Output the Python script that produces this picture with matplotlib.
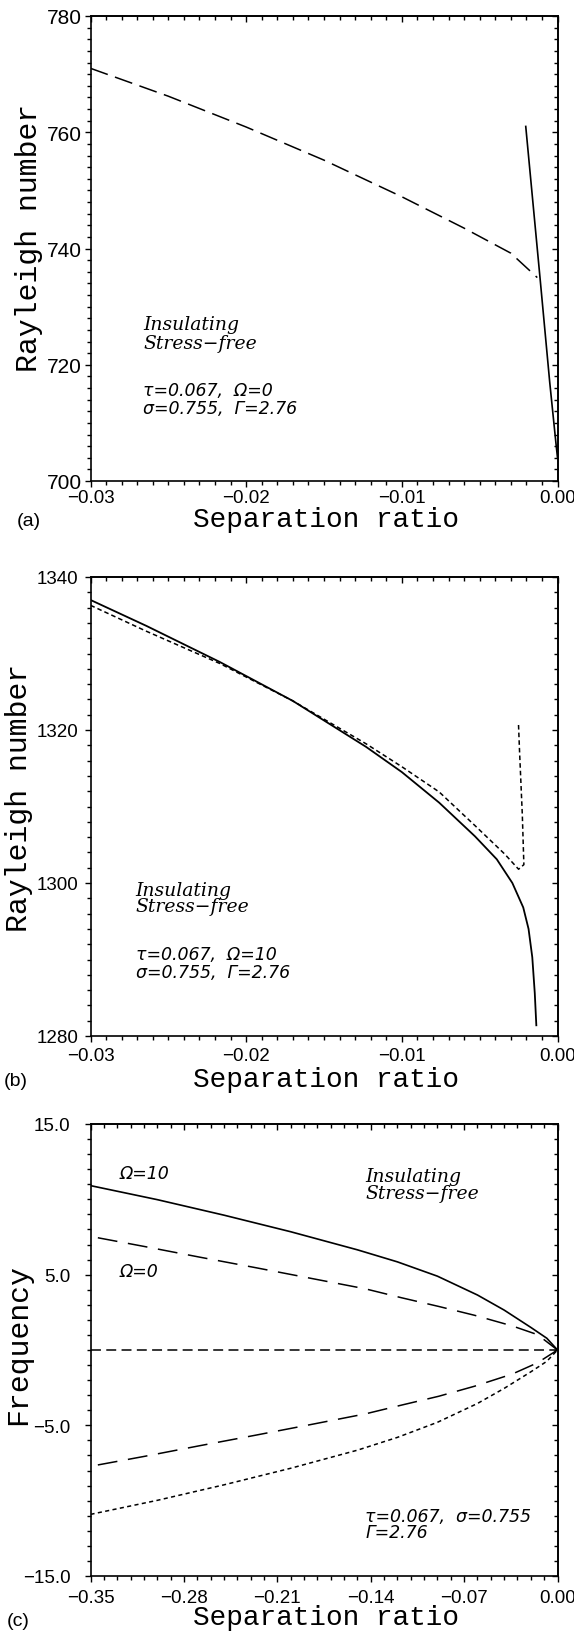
import matplotlib
matplotlib.use('Agg')
import matplotlib.pyplot as plt
from matplotlib.ticker import MultipleLocator, FixedLocator, FuncFormatter

# ---- data ----
# (a) tau=0.067, Omega=0
a_dash_x = [-0.0300, -0.0250, -0.0200, -0.0150, -0.0100, -0.0060, -0.0030, -0.0013]
a_dash_y = [771.0, 766.2, 760.9, 755.2, 748.9, 743.5, 739.2, 735.0]
a_solid_x = [-0.00204, -0.0011, -0.0005, -0.0001, 0.0]
a_solid_y = [761.0, 734.3, 717.0, 706.5, 704.0]

# (b) tau=0.067, Omega=10
b_solid_x = [-0.0300, -0.0264, -0.0217, -0.0170, -0.0123, -0.0100, -0.0076, -0.0053,
             -0.0039, -0.0029, -0.0022, -0.00186, -0.00162, -0.00146, -0.00136]
b_solid_y = [1337.0, 1333.6, 1328.9, 1323.8, 1317.8, 1314.5, 1310.5, 1306.1,
             1303.1, 1300.0, 1296.8, 1294.0, 1290.3, 1285.6, 1281.4]
b_dash_x = [-0.0300, -0.0264, -0.0217, -0.0170, -0.0123, -0.0100, -0.0076, -0.0053,
            -0.0034, -0.0025, -0.00216, -0.00226, -0.00244, -0.00251]
b_dash_y = [1336.3, 1332.9, 1328.7, 1323.8, 1318.2, 1315.2, 1311.9, 1307.5,
            1303.8, 1301.8, 1302.4, 1308.9, 1317.3, 1321.0]

# (c) frequency
c_om10_x = [-0.35, -0.30, -0.25, -0.20, -0.15, -0.12, -0.09, -0.06, -0.04, -0.02, -0.008, 0.0]
c_om10_up_y = [10.91, 9.98, 8.95, 7.85, 6.65, 5.85, 4.90, 3.65, 2.65, 1.50, 0.78, 0.0]
c_om10_lo_y = [-10.91, -9.98, -8.95, -7.85, -6.65, -5.80, -4.80, -3.55, -2.55, -1.45, -0.75, 0.0]
c_om0_x = [-0.3445, -0.309, -0.268, -0.226, -0.185, -0.144, -0.117, -0.089, -0.062, -0.034, -0.015, 0.0]
c_om0_up_y = [7.45, 6.86, 6.16, 5.46, 4.76, 4.06, 3.47, 2.89, 2.30, 1.60, 1.02, 0.0]
c_om0_lo_y = [-7.63, -7.05, -6.35, -5.65, -4.95, -4.24, -3.66, -3.07, -2.40, -1.60, -0.85, 0.0]
c_zero_x = [-0.35, 0.0]
c_zero_y = [0.0, 0.0]

# ticks
ab_xticks = [-0.03, -0.02, -0.01, 0.0]
a_yticks = [700, 720, 740, 760, 780]
b_yticks = [1280, 1300, 1320, 1340]
c_xticks = [-0.35, -0.28, -0.21, -0.14, -0.07, 0.0]
c_yticks = [-15.0, -5.0, 5.0, 15.0]

TICK_FONT = 'Liberation Sans'
LABEL_FONT = 'Liberation Mono'
NOTE_SERIF = 'DejaVu Serif'
NOTE_SANS = 'DejaVu Sans'
W, H = 574, 1633


def fmt(d):
    def f(v, p):
        s = f"{v:.{d}f}"
        if s.startswith('-') and float(s) == 0:
            s = s[1:]
        return s.replace('-', '\u2212')
    return FuncFormatter(f)


def style(ax, xt, xminor, yt, yminor, xd, yd, xpad, ypad, ysize=13.5):
    for s in ax.spines.values():
        s.set_linewidth(1.2)
    ax.xaxis.set_major_locator(FixedLocator(xt))
    ax.xaxis.set_minor_locator(MultipleLocator(xminor))
    ax.yaxis.set_major_locator(FixedLocator(yt))
    ax.yaxis.set_minor_locator(MultipleLocator(yminor))
    ax.xaxis.set_major_formatter(fmt(xd))
    ax.yaxis.set_major_formatter(fmt(yd))
    ax.tick_params(which='both', direction='out', top=False, right=False, width=1.0)
    ax.tick_params(which='major', length=4.5)
    ax.tick_params(which='minor', length=3)
    ax.tick_params(axis='x', pad=xpad)
    ax.tick_params(axis='y', pad=ypad)
    for lab in ax.get_xticklabels():
        lab.set_fontfamily(TICK_FONT)
        lab.set_fontsize(13.5)
    for lab in ax.get_yticklabels():
        lab.set_fontfamily(TICK_FONT)
        lab.set_fontsize(ysize)
    # top / right ticks point inward
    top = ax.secondary_xaxis('top')
    top.xaxis.set_major_locator(FixedLocator(xt))
    top.xaxis.set_minor_locator(MultipleLocator(xminor))
    top.tick_params(which='both', direction='in', labeltop=False, width=1.0)
    top.tick_params(which='major', length=4.5)
    top.tick_params(which='minor', length=3)
    right = ax.secondary_yaxis('right')
    right.yaxis.set_major_locator(FixedLocator(yt))
    right.yaxis.set_minor_locator(MultipleLocator(yminor))
    right.tick_params(which='both', direction='in', labelright=False, width=1.0)
    right.tick_params(which='major', length=4.5)
    right.tick_params(which='minor', length=3)
    for s in list(top.spines.values()) + list(right.spines.values()):
        s.set_linewidth(1.2)


def ax_rect(top_px, bot_px, left_px=90.5, right_px=557.5):
    return [left_px / W, 1 - bot_px / H, (right_px - left_px) / W, (bot_px - top_px) / H]


def fx(px):
    return px / W


def fy(py):
    return 1 - py / H


def notes(ax, x, items):
    for y, txt, serif in items:
        if serif:
            ax.text(x, y, txt, fontfamily=NOTE_SERIF, style='italic', fontsize=13.5, va='center')
        else:
            ax.text(x, y, txt, fontfamily=NOTE_SANS, style='italic', fontsize=12.5, va='center')


fig = plt.figure(figsize=(W / 100, H / 100), dpi=100)

# ---------------- (a) ----------------
ax1 = fig.add_axes(ax_rect(17, 482))
ax1.plot(a_dash_x, a_dash_y, color='black', lw=1.1, ls=(0, (12, 5)))
ax1.plot(a_solid_x, a_solid_y, color='black', lw=1.2)
ax1.set_xlim(-0.03, 0.0)
ax1.set_ylim(700, 780)
style(ax1, ab_xticks, 0.001, a_yticks, 2, 2, 0, 1.3, 1.5, ysize=15)
notes(ax1, -0.0266, [(727.0, 'Insulating', True), (723.8, 'Stress\u2212free', True),
                     (715.7, '\u03c4=0.067,  \u03a9=0', False),
                     (712.5, '\u03c3=0.755,  \u0393=2.76', False)])
fig.text(fx(37), fy(238), 'Rayleigh number', rotation=90, rotation_mode='anchor',
         ha='center', va='baseline', fontfamily=LABEL_FONT, fontsize=21.5)
fig.text(fx(326), fy(527), 'Separation ratio', ha='center', va='baseline',
         fontfamily=LABEL_FONT, fontsize=20)
fig.text(fx(17), fy(526), '(a)', ha='left', va='baseline', fontfamily=TICK_FONT, fontsize=14)

# ---------------- (b) ----------------
ax2 = fig.add_axes(ax_rect(578, 1037))
ax2.plot(b_solid_x, b_solid_y, color='black', lw=1.3)
ax2.plot(b_dash_x, b_dash_y, color='black', lw=1.1, ls=(0, (3, 2)))
ax2.set_xlim(-0.03, 0.0)
ax2.set_ylim(1280, 1340)
style(ax2, ab_xticks, 0.001, b_yticks, 2, 2, 0, 3.4, 4.5)
notes(ax2, -0.0271, [(1299.1, 'Insulating', True), (1297.0, 'Stress\u2212free', True),
                     (1290.7, '\u03c4=0.067,  \u03a9=10', False),
                     (1288.4, '\u03c3=0.755,  \u0393=2.76', False)])
fig.text(fx(27), fy(798), 'Rayleigh number', rotation=90, rotation_mode='anchor',
         ha='center', va='baseline', fontfamily=LABEL_FONT, fontsize=21.5)
fig.text(fx(326), fy(1087), 'Separation ratio', ha='center', va='baseline',
         fontfamily=LABEL_FONT, fontsize=20)
fig.text(fx(4), fy(1086), '(b)', ha='left', va='baseline', fontfamily=TICK_FONT, fontsize=14)

# ---------------- (c) ----------------
ax3 = fig.add_axes(ax_rect(1125, 1577))
ax3.plot(c_om10_x, c_om10_up_y, color='black', lw=1.2)
ax3.plot(c_om0_x, c_om0_up_y, color='black', lw=1.1, ls=(0, (13, 7)))
ax3.plot(c_om0_x, c_om0_lo_y, color='black', lw=1.1, ls=(0, (13, 7)))
ax3.plot(c_om10_x, c_om10_lo_y, color='black', lw=1.1, ls=(0, (2.7, 2.2)))
ax3.plot(c_zero_x, c_zero_y, color='black', lw=1.1, ls=(0, (6.5, 3.5)))
ax3.set_xlim(-0.35, 0.0)
ax3.set_ylim(-15, 15)
style(ax3, c_xticks, 0.01, c_yticks, 1, 2, 1, 4.9, 9.9)
notes(ax3, -0.328, [(11.77, '\u03a9=10', False), (5.23, '\u03a9=0', False)])
notes(ax3, -0.144, [(11.54, 'Insulating', True), (10.44, 'Stress\u2212free', True),
                    (-11.02, '\u03c4=0.067,  \u03c3=0.755', False),
                    (-12.08, '\u0393=2.76', False)])
fig.text(fx(26), fy(1345), 'Frequency', rotation=90, rotation_mode='anchor',
         ha='center', va='baseline', fontfamily=LABEL_FONT, fontsize=21.5)
fig.text(fx(326), fy(1625), 'Separation ratio', ha='center', va='baseline',
         fontfamily=LABEL_FONT, fontsize=20)
fig.text(fx(7), fy(1626), '(c)', ha='left', va='baseline', fontfamily=TICK_FONT, fontsize=14)

fig.savefig('out.png', dpi=100)
